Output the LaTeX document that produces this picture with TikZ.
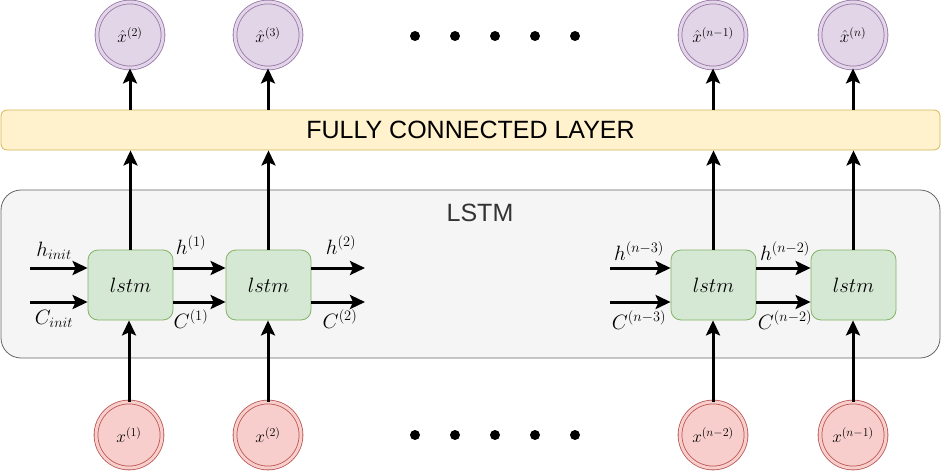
\documentclass[tikz,border=0pt]{standalone}
\usepackage{fontspec}
\setsansfont{Liberation Sans}
\usetikzlibrary{arrows.meta}
\definecolor{purfill}{HTML}{E1D5E7}
\definecolor{purline}{HTML}{9673A6}
\definecolor{redfill}{HTML}{F8CECC}
\definecolor{redline}{HTML}{B85450}
\definecolor{grnfill}{HTML}{D5E8D4}
\definecolor{grnline}{HTML}{82B366}
\definecolor{yelfill}{HTML}{FFF2CC}
\definecolor{yelline}{HTML}{D6B656}
\definecolor{grayfill}{HTML}{F5F5F5}
\definecolor{grayline}{HTML}{666666}
\definecolor{graytext}{HTML}{333333}
\begin{document}
\begin{tikzpicture}[x=1pt,y=-1pt,
  outnode/.style={circle, draw=purline, line width=0.8pt, double=purfill, double distance=3pt, fill=purfill, minimum size=66pt, inner sep=0pt, font=\fontsize{16.5}{20}\selectfont},
  innode/.style={circle, draw=redline, line width=0.8pt, double=redfill, double distance=3pt, fill=redfill, minimum size=66pt, inner sep=0pt, font=\fontsize{16.5}{20}\selectfont},
  cellbox/.style={draw=grnline, fill=grnfill, line width=0.8pt, rounded corners=10pt, minimum width=85pt, minimum height=70pt, inner sep=0pt, font=\fontsize{20}{24}\selectfont},
  lbl/.style={inner sep=0pt, font=\fontsize{20}{24}\selectfont},
  conn/.style={line width=3pt, -{Stealth[length=15pt,width=14pt,inset=3pt]}},
  dotmark/.style={fill=black}
]
\useasboundingbox (0,0) rectangle (941,471);

% backgrounds
\node[draw=grayline, fill=grayfill, line width=0.8pt, rounded corners=20pt, minimum width=939pt, minimum height=168pt, inner sep=0pt] (lstmbg) at (470.5,274) {};
\node[text=graytext, font=\sffamily\fontsize{25}{30}\selectfont, inner sep=0pt] (lstmlabel) at (480,213) {LSTM};
\node[draw=yelline, fill=yelfill, line width=0.8pt, rounded corners=6pt, minimum width=939pt, minimum height=40pt, inner sep=0pt, font=\sffamily\fontsize{25}{30}\selectfont] (fc) at (470.5,130) {FULLY CONNECTED LAYER};

% top outputs
\node[outnode] (t1) at (130,35) {$\hat{x}^{(2)}$};
\node[outnode] (t2) at (268,35) {$\hat{x}^{(3)}$};
\node[outnode] (t3) at (713,35) {$\hat{x}^{(n-1)}$};
\node[outnode] (t4) at (853,35) {$\hat{x}^{(n)}$};

% bottom inputs
\node[innode] (b1) at (129,435) {$x^{(1)}$};
\node[innode] (b2) at (268,435) {$x^{(2)}$};
\node[innode] (b3) at (713,435) {$x^{(n-2)}$};
\node[innode] (b4) at (853,435) {$x^{(n-1)}$};

% lstm cells
\node[cellbox] (l1) at (130.5,285) {$lstm$};
\node[cellbox] (l2) at (268.5,285) {$lstm$};
\node[cellbox] (l3) at (713.5,285) {$lstm$};
\node[cellbox] (l4) at (853.5,285) {$lstm$};

% dots
\foreach \dx in {415,455,495,535,575} {
  \fill[dotmark] (\dx,36) circle (5);
  \fill[dotmark] (\dx,435) circle (5);
}

% free ends
\coordinate (hin) at (30,268);
\coordinate (cin) at (30,302);
\coordinate (hout) at (365,268);
\coordinate (cout) at (365,302);
\coordinate (hn) at (610,268);
\coordinate (cn) at (610,302);

% horizontal connectors
\draw[conn] (hin) -- (hin -| l1.west);
\draw[conn] (cin) -- (cin -| l1.west);
\draw[conn] (hin -| l1.east) -- (hin -| l2.west);
\draw[conn] (cin -| l1.east) -- (cin -| l2.west);
\draw[conn] (hin -| l2.east) -- (hout);
\draw[conn] (cin -| l2.east) -- (cout);
\draw[conn] (hn) -- (hn -| l3.west);
\draw[conn] (cn) -- (cn -| l3.west);
\draw[conn] (hn -| l3.east) -- (hn -| l4.west);
\draw[conn] (cn -| l3.east) -- (cn -| l4.west);

% vertical connectors
\foreach \i in {1,2,3,4} {
  \draw[conn] (b\i.north) -- (b\i.north |- l\i.south);
  \draw[conn] (l\i.north) -- (l\i.north |- fc.south);
  \draw[conn] (t\i.south |- fc.north) -- (t\i.south);
}

% labels
\node[lbl] (lhinit) at (54,251) {$h_{init}$};
\node[lbl] (lcinit) at (54,319) {$C_{init}$};
\node[lbl] (lh1) at (191,245) {$h^{(1)}$};
\node[lbl] (lc1) at (191,319) {$C^{(1)}$};
\node[lbl] (lh2) at (341,245) {$h^{(2)}$};
\node[lbl] (lc2) at (340,319) {$C^{(2)}$};
\node[lbl] (lhn3) at (639,251) {$h^{(n-3)}$};
\node[lbl] (lcn3) at (639,320) {$C^{(n-3)}$};
\node[lbl] (lhn2) at (785,251) {$h^{(n-2)}$};
\node[lbl] (lcn2) at (785,320) {$C^{(n-2)}$};
\end{tikzpicture}
\end{document}
